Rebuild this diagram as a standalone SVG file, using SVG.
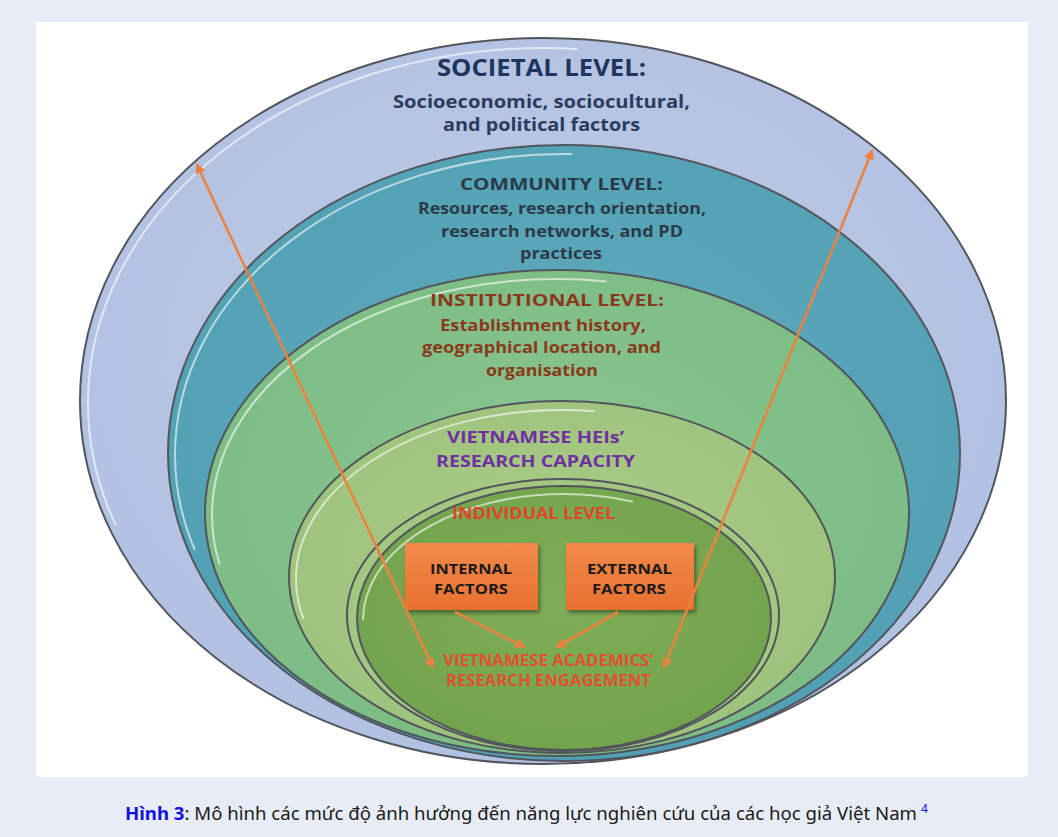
<svg xmlns="http://www.w3.org/2000/svg" width="1058" height="837" viewBox="0 0 1058 837">
  <defs>
    <radialGradient id="gSoc" cx="0.5" cy="0.45" r="0.6">
      <stop offset="0" stop-color="#bfcce8"/>
      <stop offset="1" stop-color="#b0c0e1"/>
    </radialGradient>
    <radialGradient id="gCom" cx="0.5" cy="0.45" r="0.6">
      <stop offset="0" stop-color="#63acbd"/>
      <stop offset="1" stop-color="#4f9fb3"/>
    </radialGradient>
    <radialGradient id="gIns" cx="0.5" cy="0.45" r="0.6">
      <stop offset="0" stop-color="#8ac690"/>
      <stop offset="1" stop-color="#7cbb84"/>
    </radialGradient>
    <radialGradient id="gHei" cx="0.5" cy="0.45" r="0.6">
      <stop offset="0" stop-color="#abcc86"/>
      <stop offset="1" stop-color="#9cc27c"/>
    </radialGradient>
    <radialGradient id="gInd" cx="0.5" cy="0.45" r="0.6">
      <stop offset="0" stop-color="#80ae58"/>
      <stop offset="1" stop-color="#71a24c"/>
    </radialGradient>
    <linearGradient id="gBox" x1="0" y1="0" x2="0" y2="1">
      <stop offset="0" stop-color="#f28a4c"/>
      <stop offset="1" stop-color="#e8702e"/>
    </linearGradient>
    <filter id="shadow" x="-20%" y="-20%" width="150%" height="150%">
      <feGaussianBlur in="SourceAlpha" stdDeviation="2"/>
      <feOffset dx="2" dy="3" result="b"/>
      <feComponentTransfer><feFuncA type="linear" slope="0.4"/></feComponentTransfer>
      <feMerge><feMergeNode/><feMergeNode in="SourceGraphic"/></feMerge>
    </filter>
    <marker id="arrow" viewBox="0 0 10 10" refX="8" refY="5" markerWidth="4" markerHeight="4" orient="auto-start-reverse" markerUnits="strokeWidth">
      <path d="M0,0 L10,5 L0,10 z" fill="#ec8240"/>
    </marker>
    <style>
      .ring { stroke: #52565c; stroke-width: 2; }
      .gloss { fill: none; stroke: #ffffff; stroke-opacity: 0.6; stroke-width: 2; }
      .t { font-family: "Open Sans", "Noto Sans", sans-serif; font-weight: 700; text-anchor: middle; }
      .link { stroke: #ec8240; stroke-width: 2.6; fill: none; }
    </style>
  </defs>

  <!-- page background and white panel -->
  <rect x="0" y="0" width="1058" height="837" fill="#e8ecf6"/>
  <rect x="36" y="22" width="992" height="755" fill="#ffffff"/>

  <!-- societal level -->
  <g id="societal">
    <ellipse cx="543" cy="401" rx="463" ry="363" fill="url(#gSoc)" class="ring"/>
    <ellipse cx="543" cy="403" rx="455" ry="355" class="gloss" stroke-dasharray="800 2000" stroke-dashoffset="-1150"/>
    <text class="t" x="541.5" y="76" font-size="23" fill="#1f3560" textLength="209" lengthAdjust="spacingAndGlyphs">SOCIETAL LEVEL:</text>
    <text class="t" x="541.5" y="108" font-size="17" fill="#2b3c60" textLength="297" lengthAdjust="spacingAndGlyphs">Socioeconomic, sociocultural,</text>
    <text class="t" x="541.5" y="131" font-size="17" fill="#2b3c60" textLength="197" lengthAdjust="spacingAndGlyphs">and political factors</text>
  </g>

  <!-- community level -->
  <g id="community">
    <ellipse cx="564" cy="453" rx="396" ry="308" fill="url(#gCom)" class="ring"/>
    <ellipse cx="564" cy="455" rx="389" ry="301" class="gloss" stroke-dasharray="650 2000" stroke-dashoffset="-990"/>
    <text class="t" x="561.5" y="190" font-size="16.5" fill="#2a3a48" textLength="203" lengthAdjust="spacingAndGlyphs">COMMUNITY LEVEL:</text>
    <text class="t" x="562" y="214" font-size="16" fill="#2a3a48" textLength="288" lengthAdjust="spacingAndGlyphs">Resources, research orientation,</text>
    <text class="t" x="562" y="237" font-size="16" fill="#2a3a48" textLength="242" lengthAdjust="spacingAndGlyphs">research networks, and PD</text>
    <text class="t" x="561" y="259" font-size="16" fill="#2a3a48" textLength="82" lengthAdjust="spacingAndGlyphs">practices</text>
  </g>

  <!-- institutional level -->
  <g id="institutional">
    <ellipse cx="557" cy="513" rx="352" ry="243" fill="url(#gIns)" class="ring"/>
    <ellipse cx="557" cy="515" rx="345" ry="236" class="gloss" stroke-dasharray="560 2000" stroke-dashoffset="-870"/>
    <text class="t" x="547" y="306" font-size="16.5" fill="#8a3a1c" textLength="234" lengthAdjust="spacingAndGlyphs">INSTITUTIONAL LEVEL:</text>
    <text class="t" x="543" y="331" font-size="16" fill="#8a3a1c" textLength="206" lengthAdjust="spacingAndGlyphs">Establishment  history,</text>
    <text class="t" x="541.5" y="353" font-size="16" fill="#8a3a1c" textLength="239" lengthAdjust="spacingAndGlyphs">geographical location, and</text>
    <text class="t" x="542" y="376" font-size="16" fill="#8a3a1c" textLength="112" lengthAdjust="spacingAndGlyphs">organisation</text>
  </g>

  <!-- HEIs research capacity -->
  <g id="heis">
    <ellipse cx="562" cy="577" rx="273" ry="176" fill="url(#gHei)" class="ring"/>
    <ellipse cx="562" cy="579" rx="266" ry="169" class="gloss" stroke-dasharray="420 2000" stroke-dashoffset="-650"/>
    <text class="t" x="535.5" y="443" font-size="16.5" fill="#7030a0" textLength="177" lengthAdjust="spacingAndGlyphs">VIETNAMESE HEIs’</text>
    <text class="t" x="535.5" y="467" font-size="16.5" fill="#7030a0" textLength="199" lengthAdjust="spacingAndGlyphs">RESEARCH CAPACITY</text>
  </g>

  <!-- individual level -->
  <g id="individual">
    <ellipse cx="563" cy="615" rx="216" ry="136" fill="#a3c680" class="ring"/>
    <ellipse cx="564" cy="618" rx="207" ry="132" fill="url(#gInd)" class="ring" stroke-width="1.5"/>
    <ellipse cx="564" cy="620" rx="201" ry="126" class="gloss" stroke-opacity="0.4" stroke-dasharray="330 2000" stroke-dashoffset="-520"/>
    <text class="t" x="533.5" y="519" font-size="16" fill="#e0452a" textLength="163" lengthAdjust="spacingAndGlyphs">INDIVIDUAL LEVEL</text>
  </g>

  <g id="internal-factors">
    <rect x="405" y="543" width="133" height="67" fill="url(#gBox)" filter="url(#shadow)"/>
    <text class="t" x="471" y="574" font-size="14.5" fill="#1a1a1a" textLength="82" lengthAdjust="spacingAndGlyphs">INTERNAL</text>
    <text class="t" x="471" y="594" font-size="14.5" fill="#1a1a1a" textLength="74" lengthAdjust="spacingAndGlyphs">FACTORS</text>
  </g>

  <g id="external-factors">
    <rect x="566" y="543" width="128" height="67" fill="url(#gBox)" filter="url(#shadow)"/>
    <text class="t" x="629.5" y="574" font-size="14.5" fill="#1a1a1a" textLength="85" lengthAdjust="spacingAndGlyphs">EXTERNAL</text>
    <text class="t" x="629" y="594" font-size="14.5" fill="#1a1a1a" textLength="74" lengthAdjust="spacingAndGlyphs">FACTORS</text>
  </g>

  <g id="engagement">
    <text class="t" x="548" y="666" font-size="15.5" fill="#e0502e" textLength="210" lengthAdjust="spacingAndGlyphs">VIETNAMESE ACADEMICS’</text>
    <text class="t" x="548.5" y="686" font-size="15.5" fill="#e0502e" textLength="205" lengthAdjust="spacingAndGlyphs">RESEARCH ENGAGEMENT</text>
  </g>

  <!-- connectors -->
  <g id="connectors">
    <line class="link" x1="433" y1="667" x2="197" y2="165" marker-start="url(#arrow)" marker-end="url(#arrow)"/>
    <line class="link" x1="664" y1="667" x2="872" y2="151" marker-start="url(#arrow)" marker-end="url(#arrow)"/>
    <line class="link" x1="455" y1="612" x2="524" y2="647" marker-end="url(#arrow)"/>
    <line class="link" x1="618" y1="612" x2="557" y2="647" marker-end="url(#arrow)"/>
  </g>

  <!-- caption -->
  <g id="caption">
    <text x="125" y="820" font-family="'Noto Sans', 'Open Sans', sans-serif" font-size="17.5" fill="#1a1a1a" textLength="792" lengthAdjust="spacingAndGlyphs"><tspan font-weight="700" fill="#1010e0">Hình 3</tspan>: Mô hình các mức độ ảnh hưởng đến năng lực nghiên cứu của các học giả Việt Nam</text>
    <text x="921" y="813" font-family="'Noto Sans', 'Open Sans', sans-serif" font-size="12" fill="#1010e0">4</text>
  </g>
</svg>
